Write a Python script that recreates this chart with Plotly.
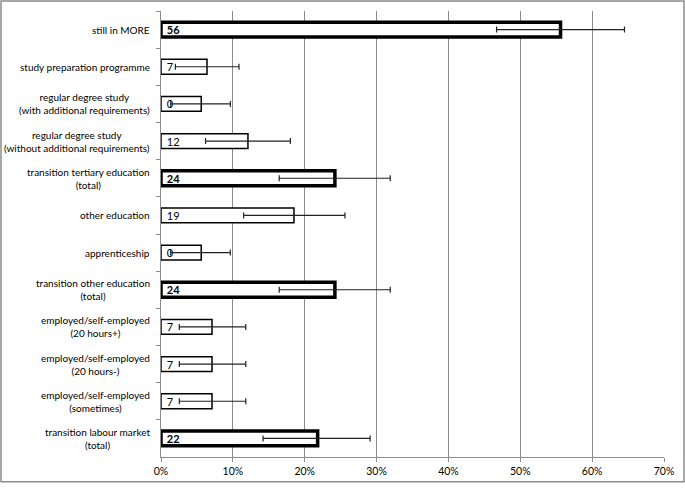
import plotly.graph_objects as go

# categories, top to bottom
categories = [
    "still in MORE",
    "study preparation programme",
    "regular degree study<br>(with additional requirements)",
    "regular degree study<br>(without additional requirements)",
    "transition tertiary education<br>(total)",
    "other education",
    "apprenticeship",
    "transition other education<br>(total)",
    "employed/self-employed<br>(20 hours+)",
    "employed/self-employed<br>(20 hours-)",
    "employed/self-employed<br>(sometimes)",
    "transition labour market<br>(total)",
]
share = [55.6, 6.4, 5.6, 12.1, 24.2, 18.5, 5.6, 24.2, 7.1, 7.1, 7.1, 21.8]   # %
ci_low = [46.7, 2.0, 1.35, 6.2, 16.45, 11.5, 1.35, 16.45, 2.55, 2.55, 2.55, 14.2]
ci_high = [64.5, 10.85, 9.65, 18.0, 31.9, 25.6, 9.65, 31.9, 11.8, 11.8, 11.8, 29.1]
counts = [56, 7, 0, 12, 24, 19, 0, 24, 7, 7, 7, 22]
is_total = [True, False, False, False, True, False, False, True, False, False, False, True]

# layout in pixels
W, H = 685, 488
L, R, T, B = 161, 21, 11, 26
pw, ph = W - L - R, H - T - B

labels = [f"&nbsp;<b>{c}</b>" if t else f"&nbsp;{c}" for c, t in zip(counts, is_total)]
widths = [3.5 if t else 1.5 for t in is_total]

fig = go.Figure()
fig.add_trace(go.Bar(
    y=categories, x=share, orientation="h",
    marker=dict(color="white", line=dict(color="black", width=widths)),
    text=labels, textposition="inside", insidetextanchor="start",
    constraintext="none", textangle=0,
    textfont=dict(family="Lato, sans-serif", size=11, color="black"),
    error_x=dict(type="data", symmetric=False,
                 array=[h - s for h, s in zip(ci_high, share)],
                 arrayminus=[s - l for s, l in zip(share, ci_low)],
                 color="#222222", thickness=1.2, width=3),
    hoverinfo="skip",
))

for cat in categories:
    fig.add_annotation(x=0, xref="paper", y=cat, yref="y", text=cat,
                       showarrow=False, xanchor="right", align="center",
                       xshift=-9,
                       font=dict(family="Lato, sans-serif", size=10, color="black"))

# outer frame
fig.add_shape(type="rect", xref="paper", yref="paper",
              x0=-(L - 1) / pw, x1=1 + (R - 1) / pw,
              y0=-(B - 1) / ph, y1=1 + (T - 1) / ph,
              line=dict(color="#8c8c8c", width=1.5))

fig.update_layout(
    width=W, height=H,
    margin=dict(l=L, r=R, t=T, b=B),
    plot_bgcolor="white", paper_bgcolor="white",
    showlegend=False, bargap=0.6,
    font=dict(family="Lato, sans-serif", size=11, color="black"),
)
fig.update_xaxes(range=[0, 70], dtick=10, ticksuffix="%",
                 showgrid=True, gridcolor="#8c8c8c", gridwidth=1,
                 showline=True, linecolor="#8c8c8c", linewidth=1,
                 ticks="outside", ticklen=4, tickcolor="#8c8c8c",
                 zeroline=False, tickfont=dict(size=10.5))
fig.update_yaxes(autorange="reversed", showticklabels=False,
                 showline=True, linecolor="#8c8c8c", linewidth=1,
                 ticks="outside", tickson="boundaries", ticklen=4,
                 tickcolor="#8c8c8c", showgrid=False)

fig.write_html("out.html", config={"displayModeBar": False},
               post_script="document.body.style.margin='0';")
